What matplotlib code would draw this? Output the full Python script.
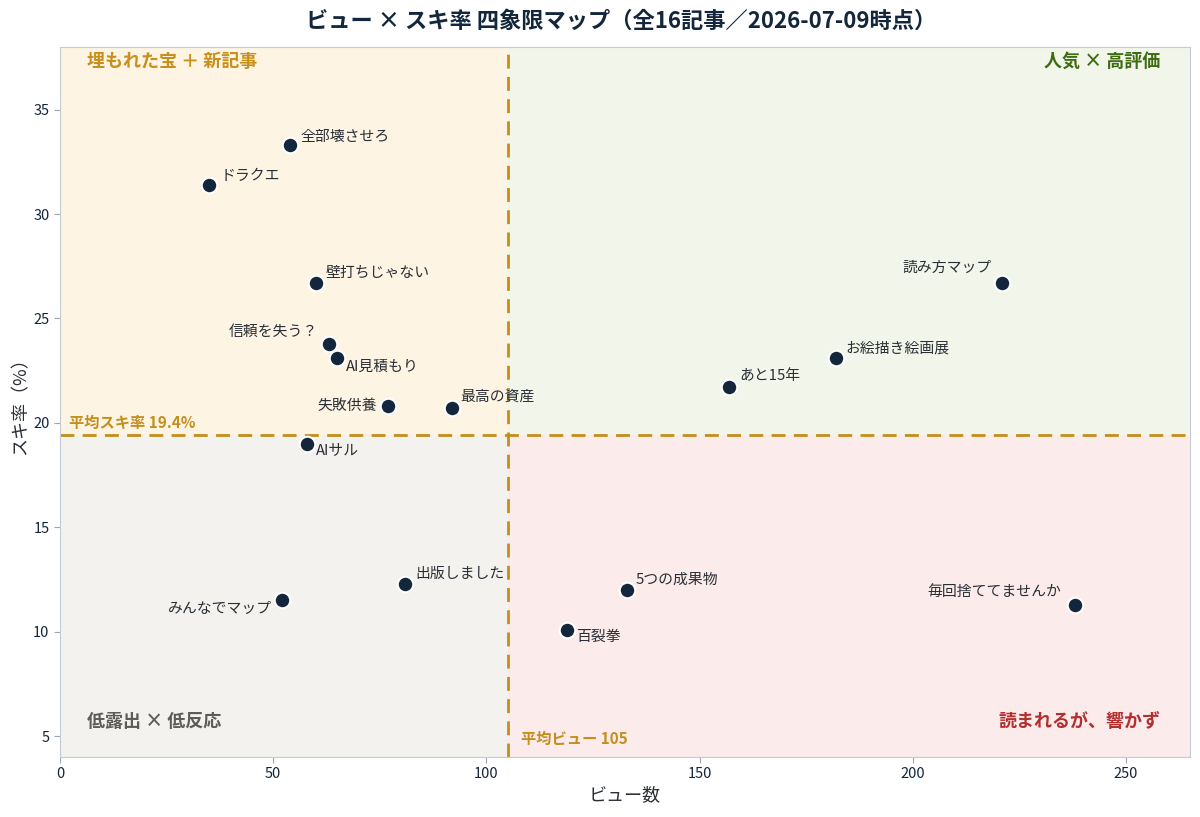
import matplotlib
matplotlib.use('Agg')
import matplotlib.pyplot as plt

plt.rcParams['font.family'] = ['Noto Sans CJK JP', 'DejaVu Sans']

# article data: views and like rate (%)
titles = ['全部壊させろ', 'ドラクエ', '壁打ちじゃない', '信頼を失う？', 'AI見積もり',
          '失敗供養', '最高の資産', 'AIサル', '出版しました', 'みんなでマップ',
          '5つの成果物', '百裂拳', '毎回捨ててませんか', '読み方マップ',
          'お絵描き絵画展', 'あと15年']
views = [54, 35, 60, 63, 65, 77, 92, 58, 81, 52, 133, 119, 238, 221, 182, 157]
like_rate = [33.3, 31.4, 26.7, 23.8, 23.1, 20.8, 20.7, 19.0, 12.3, 11.5,
             12.0, 10.1, 11.3, 26.7, 23.1, 21.7]
avg_view = 105
avg_rate = 19.4

quadrant_names = ['埋もれた宝 ＋ 新記事', '人気 × 高評価', '低露出 × 低反応', '読まれるが、響かず']

# label placement (offset points, horizontal alignment)
label_pos = {
    '全部壊させろ': (7, 6, 'left'),
    'ドラクエ': (8, 6, 'left'),
    '壁打ちじゃない': (7, 7, 'left'),
    '信頼を失う？': (-8, 8, 'right'),
    'AI見積もり': (6, -6, 'left'),
    '失敗供養': (-8, 0, 'right'),
    '最高の資産': (6, 8, 'left'),
    'AIサル': (6, -5, 'left'),
    '出版しました': (7, 7, 'left'),
    'みんなでマップ': (-7, -6, 'right'),
    '5つの成果物': (6, 7, 'left'),
    '百裂拳': (6, -5, 'left'),
    '毎回捨ててませんか': (-10, 9, 'right'),
    '読み方マップ': (-8, 11, 'right'),
    'お絵描き絵画展': (7, 7, 'left'),
    'あと15年': (7, 8, 'left'),
}

navy = '#13263b'
gold = '#c38e1c'
xmin, xmax = 0, 265
ymin, ymax = 4, 38

fig = plt.figure(figsize=(12, 8.17), dpi=100)
ax = fig.add_axes([0.05, 0.0734, 0.9417, 0.8691])

# quadrant backgrounds
split = (avg_rate - ymin) / (ymax - ymin)
ax.axvspan(xmin, avg_view, ymin=split, ymax=1, color='#fdf4e3', lw=0, zorder=0)
ax.axvspan(avg_view, xmax, ymin=split, ymax=1, color='#f2f6ea', lw=0, zorder=0)
ax.axvspan(xmin, avg_view, ymin=0, ymax=split, color='#f4f2ee', lw=0, zorder=0)
ax.axvspan(avg_view, xmax, ymin=0, ymax=split, color='#fcebeb', lw=0, zorder=0)

ax.axvline(avg_view, color=gold, lw=2, linestyle=(0, (5, 3)), zorder=1)
ax.axhline(avg_rate, color=gold, lw=2, linestyle=(0, (5, 3)), zorder=1)

ax.scatter(views, like_rate, s=125, color=navy, edgecolor='white', linewidth=1.5, zorder=3)

for t, x, y in zip(titles, views, like_rate):
    dx, dy, ha = label_pos[t]
    ax.annotate(t, (x, y), xytext=(dx, dy), textcoords='offset points',
                ha=ha, va='center', fontsize=10.7, color='#2a2f36', zorder=4)

ax.text(2, avg_rate + 0.2, f'平均スキ率 {avg_rate}%', color=gold, fontsize=11,
        fontweight='bold', ha='left', va='bottom')
ax.text(avg_view + 3, 4.5, f'平均ビュー {avg_view}', color=gold, fontsize=11,
        fontweight='bold', ha='left', va='bottom')

ax.text(6.3, 37.3, quadrant_names[0], color='#c8901a', fontsize=13, fontweight='bold', ha='left', va='center')
ax.text(258, 37.3, quadrant_names[1], color='#3f6b12', fontsize=13, fontweight='bold', ha='right', va='center')
ax.text(6.3, 5.7, quadrant_names[2], color='#5c5c5c', fontsize=13, fontweight='bold', ha='left', va='center')
ax.text(258, 5.7, quadrant_names[3], color='#b32e2e', fontsize=13, fontweight='bold', ha='right', va='center')

ax.set_xlim(xmin, xmax)
ax.set_ylim(ymin, ymax)
ax.set_xticks([0, 50, 100, 150, 200, 250])
ax.set_yticks([5, 10, 15, 20, 25, 30, 35])
ax.tick_params(colors='#9aa5b1', labelcolor=navy, labelsize=10.5, length=4)
for s in ax.spines.values():
    s.set_color('#c3cbd5')

ax.set_xlabel('ビュー数', fontsize=13, color='#2a2f36', labelpad=3)
ax.set_ylabel('スキ率（%）', fontsize=13, color='#2a2f36', labelpad=3)
fig.suptitle('ビュー × スキ率 四象限マップ（全16記事／2026-07-09時点）', x=0.518, y=0.988,
             fontsize=16, fontweight='bold', color=navy)

fig.savefig('out.png', dpi=100)
